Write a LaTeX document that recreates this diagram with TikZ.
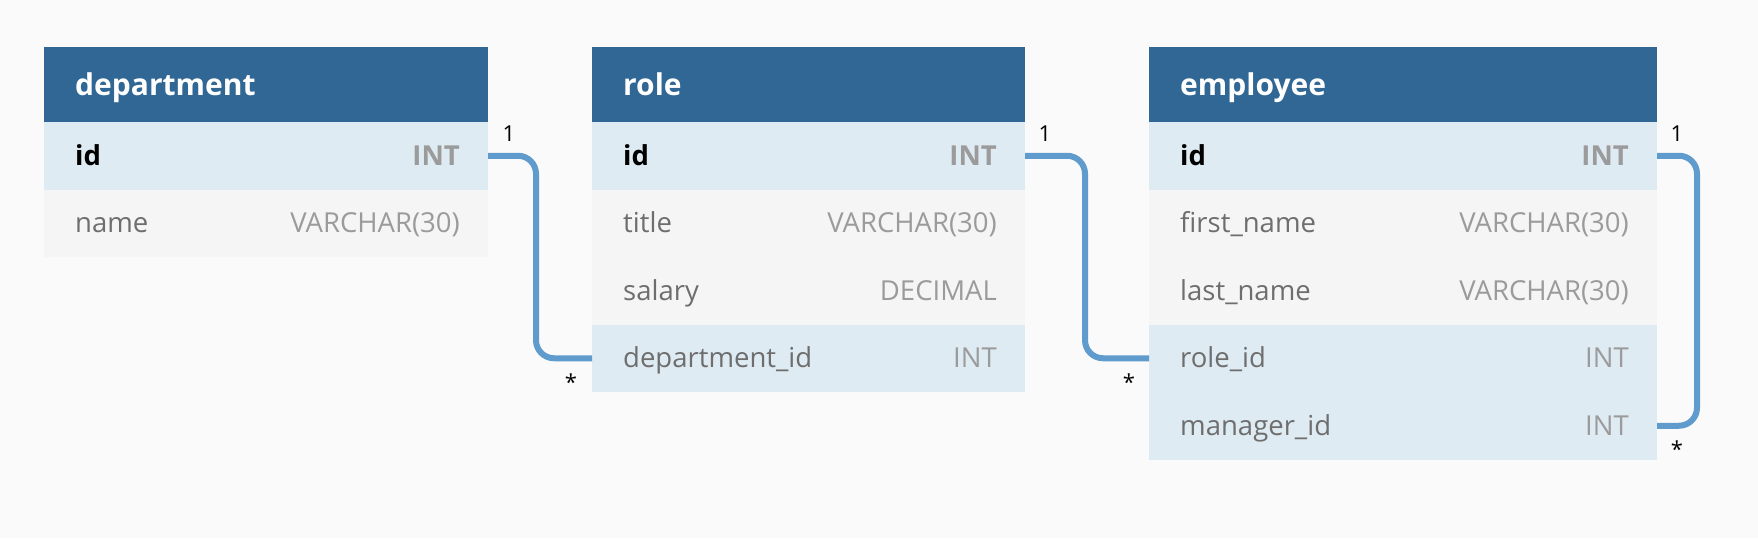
\documentclass[tikz,border=0pt]{standalone}
\usepackage{fontspec}
\setmainfont{Open Sans}
\definecolor{bg}{HTML}{FAFAFA}
\definecolor{hdr}{HTML}{316794}
\definecolor{keyrow}{HTML}{DFEBF2}
\definecolor{plainrow}{HTML}{F5F5F5}
\definecolor{fname}{HTML}{6E6E6E}
\definecolor{ftype}{HTML}{9B9B9B}
\definecolor{conn}{HTML}{5F9BCD}
\tikzset{
  cell/.style={rectangle, inner sep=0pt, outer sep=0pt, anchor=north west, minimum height=67.5pt},
  hdrcell/.style={cell, fill=hdr, minimum height=75pt},
  krow/.style={cell, fill=keyrow},
  prow/.style={cell, fill=plainrow},
  hdrtext/.style={anchor=base west, inner sep=0pt, text=white, font=\fontsize{30}{32}\selectfont\bfseries},
  nametext/.style={anchor=base west, inner sep=0pt, text=fname, font=\fontsize{27.5}{30}\selectfont},
  typetext/.style={anchor=base east, inner sep=0pt, text=ftype, font=\fontsize{27.5}{30}\selectfont},
  pkname/.style={nametext, text=black, font=\fontsize{27.5}{30}\selectfont\bfseries},
  pktype/.style={typetext, font=\fontsize{27.5}{30}\selectfont\bfseries},
  relline/.style={draw=conn, line width=6pt, rounded corners=18pt},
  card/.style={inner sep=0pt, text=black, font=\fontsize{22}{24}\selectfont},
}
\begin{document}
\begin{tikzpicture}[x=1pt,y=-1pt]
\fill[bg] (0,0) rectangle (1758,538);
\useasboundingbox (0,0) rectangle (1758,538);
% ---------- department ----------
\node[hdrcell, minimum width=444pt] (dh) at (44,47) {};
\node[hdrtext] (dht) at ([xshift=31pt,yshift=-10.5pt]dh.west) {department};
\node[krow, minimum width=444pt] (d1) at (44,122) {};
\node[pkname] (d1n) at ([xshift=31pt,yshift=-9.5pt]d1.west) {id};
\node[pktype] (d1t) at ([xshift=-28pt,yshift=-9.5pt]d1.east) {INT};
\node[prow, minimum width=444pt] (d2) at (44,189.5) {};
\node[nametext] (d2n) at ([xshift=31pt,yshift=-9.5pt]d2.west) {name};
\node[typetext] (d2t) at ([xshift=-28pt,yshift=-9.5pt]d2.east) {VARCHAR(30)};
% ---------- role ----------
\node[hdrcell, minimum width=433pt] (rh) at (592,47) {};
\node[hdrtext] (rht) at ([xshift=31pt,yshift=-10.5pt]rh.west) {role};
\node[krow, minimum width=433pt] (r1) at (592,122) {};
\node[pkname] (r1n) at ([xshift=31pt,yshift=-9.5pt]r1.west) {id};
\node[pktype] (r1t) at ([xshift=-28pt,yshift=-9.5pt]r1.east) {INT};
\node[prow, minimum width=433pt] (r2) at (592,189.5) {};
\node[nametext] (r2n) at ([xshift=31pt,yshift=-9.5pt]r2.west) {title};
\node[typetext] (r2t) at ([xshift=-28pt,yshift=-9.5pt]r2.east) {VARCHAR(30)};
\node[prow, minimum width=433pt] (r3) at (592,257) {};
\node[nametext] (r3n) at ([xshift=31pt,yshift=-9.5pt]r3.west) {salary};
\node[typetext] (r3t) at ([xshift=-28pt,yshift=-9.5pt]r3.east) {DECIMAL};
\node[krow, minimum width=433pt] (r4) at (592,324.5) {};
\node[nametext] (r4n) at ([xshift=31pt,yshift=-9.5pt]r4.west) {department\_id};
\node[typetext] (r4t) at ([xshift=-28pt,yshift=-9.5pt]r4.east) {INT};
% ---------- employee ----------
\node[hdrcell, minimum width=508pt] (eh) at (1149,47) {};
\node[hdrtext] (eht) at ([xshift=31pt,yshift=-10.5pt]eh.west) {employee};
\node[krow, minimum width=508pt] (e1) at (1149,122) {};
\node[pkname] (e1n) at ([xshift=31pt,yshift=-9.5pt]e1.west) {id};
\node[pktype] (e1t) at ([xshift=-28pt,yshift=-9.5pt]e1.east) {INT};
\node[prow, minimum width=508pt] (e2) at (1149,189.5) {};
\node[nametext] (e2n) at ([xshift=31pt,yshift=-9.5pt]e2.west) {first\_name};
\node[typetext] (e2t) at ([xshift=-28pt,yshift=-9.5pt]e2.east) {VARCHAR(30)};
\node[prow, minimum width=508pt] (e3) at (1149,257) {};
\node[nametext] (e3n) at ([xshift=31pt,yshift=-9.5pt]e3.west) {last\_name};
\node[typetext] (e3t) at ([xshift=-28pt,yshift=-9.5pt]e3.east) {VARCHAR(30)};
\node[krow, minimum width=508pt] (e4) at (1149,324.5) {};
\node[nametext] (e4n) at ([xshift=31pt,yshift=-9.5pt]e4.west) {role\_id};
\node[typetext] (e4t) at ([xshift=-28pt,yshift=-9.5pt]e4.east) {INT};
\node[krow, minimum width=508pt] (e5) at (1149,392) {};
\node[nametext] (e5n) at ([xshift=31pt,yshift=-9.5pt]e5.west) {manager\_id};
\node[typetext] (e5t) at ([xshift=-28pt,yshift=-9.5pt]e5.east) {INT};
% ---------- connectors ----------
\coordinate (c1) at (536,0);
\coordinate (c2) at (1085,0);
\coordinate (c3) at (1697,0);
\draw[relline] (d1.east) -- (d1.east -| c1) -- (r4.west -| c1) -- (r4.west);
\draw[relline] (r1.east) -- (r1.east -| c2) -- (e4.west -| c2) -- (e4.west);
\draw[relline] (e1.east) -- (e1.east -| c3) -- (e5.east -| c3) -- (e5.east);
% ---------- cardinalities ----------
\node[card] (k1) at (509,134) {1};
\node[card] (k2) at (571,382) {*};
\node[card] (k3) at (1045,134) {1};
\node[card] (k4) at (1129,382) {*};
\node[card] (k5) at (1677,134) {1};
\node[card] (k6) at (1677,449) {*};
\end{tikzpicture}
\end{document}
